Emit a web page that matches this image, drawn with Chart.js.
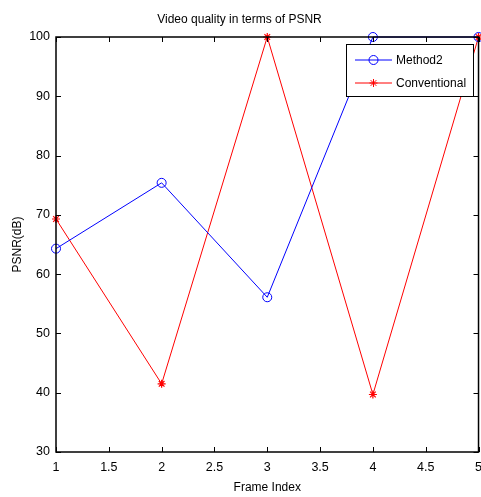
<!DOCTYPE html>
<html>
<head>
<meta charset="utf-8">
<script src="https://cdn.jsdelivr.net/npm/chart.js@4"></script>
<style>
  html, body { margin: 0; padding: 0; background: #fff; overflow: hidden; }
  #wrap { width: 490px; height: 497px; }
</style>
</head>
<body>
<div id="wrap"><canvas id="psnrChart" width="490" height="497"></canvas></div>
<script>
// Data
const frames = [1, 2, 3, 4, 5];
const method2 = [64.3, 75.4, 56.1, 100, 100];
const conventional = [69.3, 41.5, 100, 39.7, 100];
const xTicks = [1, 1.5, 2, 2.5, 3, 3.5, 4, 4.5, 5];
const yTicks = [30, 40, 50, 60, 70, 80, 90, 100];

const FONT = 'Liberation Sans, Arial, sans-serif';
const ctx = document.getElementById('psnrChart').getContext('2d');

// Box around the plot plus inward ticks on every side (MATLAB look)
const boxTicks = {
  id: 'boxTicks',
  afterDatasetsDraw(chart) {
    const { ctx, chartArea: a, scales: { x, y } } = chart;
    ctx.save();
    ctx.strokeStyle = '#000';
    ctx.lineWidth = 1;
    ctx.beginPath();
    xTicks.forEach(v => {
      const px = Math.round(x.getPixelForValue(v)) + 0.5;
      ctx.moveTo(px, a.bottom); ctx.lineTo(px, a.bottom - 5);
      ctx.moveTo(px, a.top); ctx.lineTo(px, a.top + 5);
    });
    yTicks.forEach(v => {
      const py = Math.round(y.getPixelForValue(v)) + 0.5;
      ctx.moveTo(a.left, py); ctx.lineTo(a.left + 5, py);
      ctx.moveTo(a.right, py); ctx.lineTo(a.right - 5, py);
    });
    ctx.stroke();
    ctx.lineWidth = 1.5;
    ctx.strokeRect(a.left, a.top, a.right - a.left, a.bottom - a.top);
    ctx.restore();
  }
};

// Legend box drawn inside the plot, top right
const insideLegend = {
  id: 'insideLegend',
  afterDraw(chart) {
    const { ctx } = chart;
    const left = 346, top = 44, w = 127, h = 52;
    ctx.save();
    ctx.fillStyle = '#fff';
    ctx.fillRect(left, top, w, h);
    ctx.strokeStyle = '#000';
    ctx.lineWidth = 1;
    ctx.strokeRect(left + 0.5, top + 0.5, w, h);
    ctx.font = '12px ' + FONT;
    ctx.textBaseline = 'middle';
    chart.data.datasets.forEach((ds, i) => {
      const cy = top + 16 + i * 23;
      ctx.strokeStyle = ds.borderColor;
      ctx.fillStyle = ds.backgroundColor;
      ctx.lineWidth = 1;
      ctx.beginPath();
      ctx.moveTo(355, cy); ctx.lineTo(392, cy);
      ctx.stroke();
      Chart.helpers.drawPoint(ctx, {
        pointStyle: ds.pointStyle, radius: ds.pointRadius, borderWidth: 1
      }, 373.5, cy);
      ctx.fillStyle = '#000';
      ctx.fillText(ds.label, 396, cy + 1);
    });
    ctx.restore();
  }
};

new Chart(ctx, {
  type: 'line',
  data: {
    datasets: [{
      label: 'Method2',
      data: frames.map((f, i) => ({ x: f, y: method2[i] })),
      borderColor: '#0000ff',
      backgroundColor: 'rgba(0,0,0,0)',
      borderWidth: 1,
      pointStyle: 'circle',
      pointRadius: 4.5,
      pointBorderWidth: 1,
      tension: 0
    }, {
      label: 'Conventional',
      data: frames.map((f, i) => ({ x: f, y: conventional[i] })),
      borderColor: '#ff0000',
      backgroundColor: '#ff0000',
      borderWidth: 1,
      pointStyle: 'star',
      pointRadius: 4,
      pointBorderWidth: 1.2,
      tension: 0
    }]
  },
  options: {
    responsive: false,
    animation: false,
    clip: false,
    layout: { padding: { top: 0, left: 0, right: 11, bottom: 0 } },
    plugins: {
      legend: { display: false },
      tooltip: { enabled: false },
      title: {
        display: true,
        text: 'Video quality in terms of PSNR',
        color: '#000',
        font: { family: FONT, size: 12, weight: 'normal' },
        padding: { top: 12, bottom: 10.6 }
      }
    },
    scales: {
      x: {
        type: 'linear',
        min: 1,
        max: 5,
        afterBuildTicks: s => { s.ticks = xTicks.map(v => ({ value: v })); },
        afterFit: s => { s.height = 45; },
        grid: { display: false, drawTicks: false },
        border: { display: false },
        ticks: {
          color: '#000',
          padding: 8,
          maxRotation: 0,
          autoSkip: false,
          font: { family: FONT, size: 12.5 },
          callback: v => String(v)
        },
        title: {
          display: true,
          text: 'Frame Index',
          color: '#000',
          font: { family: FONT, size: 12 },
          padding: { top: 0, bottom: 2 }
        }
      },
      y: {
        min: 30,
        max: 100,
        afterBuildTicks: s => { s.ticks = yTicks.map(v => ({ value: v })); },
        afterFit: s => { s.width = 56; },
        grid: { display: false, drawTicks: false },
        border: { display: false },
        ticks: {
          color: '#000',
          padding: 6,
          autoSkip: false,
          font: { family: FONT, size: 12.5 },
          callback: v => String(v)
        },
        title: {
          display: true,
          text: 'PSNR(dB)',
          color: '#000',
          font: { family: FONT, size: 12 },
          padding: { top: 10, bottom: 0 }
        }
      }
    }
  },
  plugins: [boxTicks, insideLegend]
});
</script>
</body>
</html>
